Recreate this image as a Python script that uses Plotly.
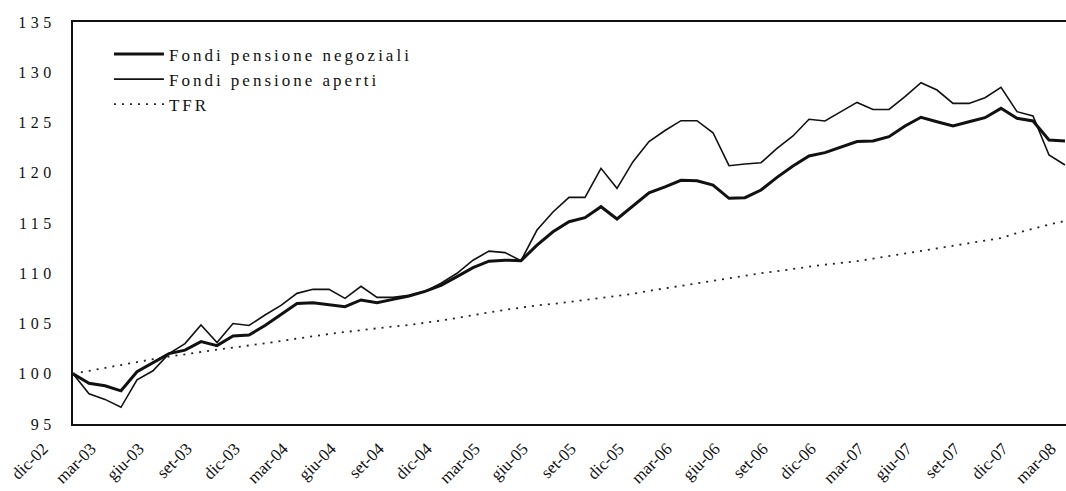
import plotly.graph_objects as go

# Categories: monthly, dic-02 .. apr-08
mesi = ["gen", "feb", "mar", "apr", "mag", "giu", "lug", "ago", "set", "ott", "nov", "dic"]
periodi = ["dic-02"] + [f"{m}-{y:02d}" for y in range(3, 9) for m in mesi]
periodi = periodi[:65]

fondi_negoziali = [
    100.0, 99.05, 98.8, 98.3, 100.2, 101.1, 102.0, 102.35, 103.2, 102.8,
    103.75, 103.85, 104.8, 105.9, 107.0, 107.07, 106.84, 106.67, 107.34, 107.07,
    107.4, 107.74, 108.2, 108.8, 109.66, 110.55, 111.2, 111.3, 111.25, 112.8,
    114.13, 115.13, 115.53, 116.62, 115.4, 116.72, 118.0, 118.6, 119.25, 119.2,
    118.78, 117.46, 117.52, 118.28, 119.54, 120.67, 121.67, 122.0, 122.53, 123.1,
    123.16, 123.59, 124.65, 125.52, 125.08, 124.65, 125.08, 125.48, 126.41, 125.42,
    125.15, 123.26, 123.16,
]
fondi_aperti = [
    100.0, 98.0, 97.45, 96.66, 99.4, 100.3, 102.0, 103.0, 104.85, 103.1,
    105.0, 104.8, 105.85, 106.8, 108.0, 108.4, 108.4, 107.5, 108.7, 107.6,
    107.6, 107.8, 108.2, 109.0, 110.0, 111.3, 112.2, 112.05, 111.25, 114.3,
    116.1, 117.55, 117.55, 120.44, 118.45, 121.1, 123.1, 124.2, 125.18, 125.18,
    123.98, 120.7, 120.87, 121.0, 122.43, 123.66, 125.32, 125.15, 126.08, 127.0,
    126.3, 126.3, 127.57, 128.96, 128.23, 126.9, 126.9, 127.47, 128.5, 126.08,
    125.65, 121.77, 120.77,
]
tfr = [
    100.0, 100.3, 100.6, 100.9, 101.2, 101.45, 101.7, 101.95, 102.2, 102.4,
    102.6, 102.8, 103.0, 103.25, 103.5, 103.75, 103.95, 104.15, 104.35, 104.5,
    104.7, 104.85, 105.05, 105.3, 105.55, 105.85, 106.1, 106.35, 106.6, 106.8,
    106.95, 107.15, 107.35, 107.5, 107.7, 107.95, 108.25, 108.5, 108.8, 109.05,
    109.3, 109.55, 109.8, 110.0, 110.2, 110.45, 110.65, 110.85, 111.0, 111.2,
    111.45, 111.7, 111.95, 112.25, 112.5, 112.75, 113.0, 113.2, 113.5, 114.0,
    114.45, 114.85, 115.2,
]
tick_labels = periodi[::3]
y_ticks = [95, 100, 105, 110, 115, 120, 125, 130, 135]

serif = "Liberation Serif, Times New Roman, serif"
ink = "#111111"

fig = go.Figure()
fig.add_trace(go.Scatter(x=periodi[:len(fondi_negoziali)], y=fondi_negoziali, mode="lines",
                         name="Fondi pensione negoziali",
                         line=dict(color=ink, width=3)))
fig.add_trace(go.Scatter(x=periodi[:len(fondi_aperti)], y=fondi_aperti, mode="lines",
                         name="Fondi pensione aperti",
                         line=dict(color=ink, width=1.6)))
fig.add_trace(go.Scatter(x=periodi[:len(tfr)], y=tfr, mode="lines", name="TFR",
                         line=dict(color="#222222", width=1.8, dash="2px,6px")))

fig.update_layout(
    width=1100, height=491,
    margin=dict(l=73, r=0, t=22, b=67, autoexpand=False),
    paper_bgcolor="white", plot_bgcolor="white",
    showlegend=True,
    legend=dict(x=0.035, y=0.964, xanchor="left", yanchor="top",
                bgcolor="rgba(0,0,0,0)", font=dict(family=serif, size=17, color=ink),
                itemwidth=50, tracegroupgap=0),
    font=dict(family=serif, color=ink),
)
fig.update_xaxes(
    type="category", categoryorder="array", categoryarray=periodi,
    range=[0, 1027 / 16], automargin=False,
    tickmode="array", tickvals=tick_labels, ticktext=tick_labels,
    tickangle=-45, tickfont=dict(family=serif, size=17, color=ink),
    showgrid=False, zeroline=False,
    showline=True, linecolor=ink, linewidth=2, mirror=True,
    ticks="", ticklabelshift=-30, ticklabelstandoff=6,
)
fig.update_yaxes(
    range=[95, 135], tickmode="array", tickvals=y_ticks, automargin=False,
    tickfont=dict(family=serif, size=16, color=ink),
    showgrid=False, zeroline=False,
    showline=True, linecolor=ink, linewidth=2, mirror=False,
    ticks="", ticklabelstandoff=12,
)

post = """
document.body.style.margin = '0';
document.body.style.overflow = 'hidden';
document.documentElement.style.overflow = 'hidden';
var gd = document.getElementById('{plot_id}');
function sp(){
  gd.querySelectorAll('.legendtext').forEach(function(e){e.style.letterSpacing='3px';});
  gd.querySelectorAll('.legend .scrollbox').forEach(function(e){e.removeAttribute('clip-path');});
  gd.querySelectorAll('.ytick text').forEach(function(e){e.style.letterSpacing='4.5px';});
}
sp();
gd.on('plotly_afterplot', sp);
"""
fig.write_html("out.html", post_script=post, config={"displayModeBar": False})
